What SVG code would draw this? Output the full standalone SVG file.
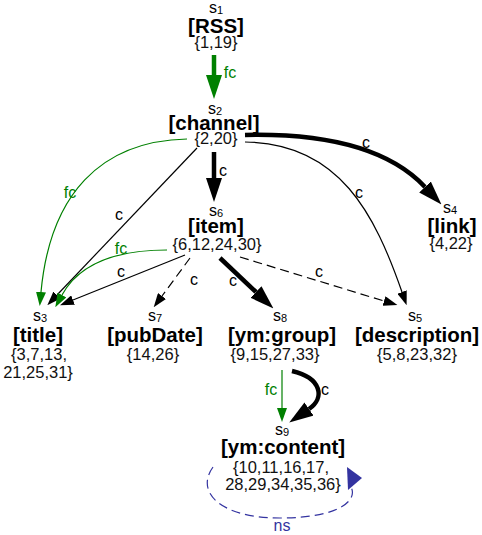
<svg xmlns="http://www.w3.org/2000/svg" width="482" height="535" viewBox="0 0 482 535">
<style>
text{font-family:"Liberation Sans",Arial,sans-serif;fill:#000}
.sl{font-size:16px;text-anchor:middle}
.sub{font-size:11px}
.nm{font-size:20.5px;font-weight:bold;text-anchor:middle}
.st{font-size:16.5px;text-anchor:middle;fill:#111}
.el{font-size:16px;text-anchor:middle}
.g{fill:#008000}
.b{fill:#3333a0}
.e{fill:none;stroke:#000;stroke-width:1.2}
.thick{stroke-width:4.5}
.gr{stroke:#008000}
.dash{stroke-dasharray:9,5}
.ns{fill:none;stroke:#3333a0;stroke-width:1.2;stroke-dasharray:9,5}
</style>
<defs>
<marker id="hb" markerUnits="userSpaceOnUse" markerWidth="24" markerHeight="16" refX="0" refY="8" orient="auto"><path d="M0,0 L24,8 L0,16 z" fill="#000"/></marker>
<marker id="hs" markerUnits="userSpaceOnUse" markerWidth="14" markerHeight="10" refX="0" refY="5" orient="auto"><path d="M0,0 L14,5 L0,10 z" fill="#000"/></marker>
<marker id="gb" markerUnits="userSpaceOnUse" markerWidth="24" markerHeight="16" refX="0" refY="8" orient="auto"><path d="M0,0 L24,8 L0,16 z" fill="#008000"/></marker>
<marker id="gs" markerUnits="userSpaceOnUse" markerWidth="14" markerHeight="10" refX="0" refY="5" orient="auto"><path d="M0,0 L14,5 L0,10 z" fill="#008000"/></marker>
</defs>

<g id="edges">
<!-- s1 -> s2 fc -->
<path class="e thick gr" d="M214,55 L214,75" marker-end="url(#gb)"/>
<text class="el g" x="230" y="78">fc</text>
<!-- s2 -> s6 c -->
<path class="e thick" d="M214,152 L214,178" marker-end="url(#hb)"/>
<text class="el" x="223" y="176">c</text>
<!-- s2 -> s4 c -->
<path class="e thick" d="M245,135 C335,133 392,152 425,187" marker-end="url(#hb)"/>
<text class="el" x="366" y="148">c</text>
<!-- s2 -> s5 c -->
<path class="e" d="M245,142 C340,143 375,215 402,292" marker-end="url(#hs)"/>
<text class="el" x="359" y="198">c</text>
<!-- s2 -> s3 c -->
<path class="e" d="M197,148 L57,295" marker-end="url(#hs)"/>
<text class="el" x="119" y="220">c</text>
<!-- s2 -> s3 fc -->
<path class="e gr" d="M187,139 C100,141 50,195 41,292" marker-end="url(#gs)"/>
<text class="el g" x="70" y="198">fc</text>
<!-- s6 -> s3 fc -->
<path class="e gr" d="M167,250 C120,250 80,262 62,295" marker-end="url(#gs)"/>
<text class="el g" x="121" y="254">fc</text>
<!-- s6 -> s3 c -->
<path class="e" d="M185,255 L73,300" marker-end="url(#hs)"/>
<text class="el" x="121" y="277">c</text>
<!-- s6 -> s7 c -->
<path class="e dash" d="M190,258 L162,296" marker-end="url(#hs)"/>
<text class="el" x="194" y="285">c</text>
<!-- s6 -> s8 c -->
<path class="e thick" d="M220,258 L256,292" marker-end="url(#hb)"/>
<text class="el" x="233" y="286">c</text>
<!-- s6 -> s5 c -->
<path class="e dash" d="M240,257 L384,301" marker-end="url(#hs)"/>
<text class="el" x="319" y="277">c</text>
<!-- s8 -> s9 fc -->
<path class="e gr" d="M282,370 L282,408" marker-end="url(#gs)"/>
<text class="el g" x="271" y="395">fc</text>
<!-- s8 -> s9 c -->
<path class="e thick" d="M292,371 C322,378 325,398 309,409" marker-end="url(#hb)"/>
<text class="el" x="325" y="395">c</text>
<!-- s9 -> s9 ns -->
<path class="ns" d="M213,467 C195,492 220,518 280,518 C340,518 358,500 351,487"/>
<path d="M347,467 L362,478 L348,490 z" fill="#3333a0"/>
<text class="el b" x="282" y="531">ns</text>
</g>

<g id="s1">
<text class="sl" x="216" y="13">s<tspan class="sub" dy="1">1</tspan></text>
<text class="nm" x="216" y="33">[RSS]</text>
<text class="st" x="216" y="48">{1,19}</text>
</g>
<g id="s2">
<text class="sl" x="215" y="114">s<tspan class="sub" dy="1">2</tspan></text>
<text class="nm" x="214" y="130">[channel]</text>
<text class="st" x="216" y="144">{2,20}</text>
</g>
<g id="s6">
<text class="sl" x="216" y="216">s<tspan class="sub" dy="1">6</tspan></text>
<text class="nm" x="216" y="233">[item]</text>
<text class="st" x="217" y="250">{6,12,24,30}</text>
</g>
<g id="s4">
<text class="sl" x="450" y="213">s<tspan class="sub" dy="1">4</tspan></text>
<text class="nm" x="452" y="233">[link]</text>
<text class="st" x="451" y="249">{4,22}</text>
</g>
<g id="s3">
<text class="sl" x="40" y="321">s<tspan class="sub" dy="1">3</tspan></text>
<text class="nm" x="38" y="342">[title]</text>
<text class="st" x="39" y="360">{3,7,13,</text>
<text class="st" x="38" y="378">21,25,31}</text>
</g>
<g id="s7">
<text class="sl" x="155" y="321">s<tspan class="sub" dy="1">7</tspan></text>
<text class="nm" x="155" y="342">[pubDate]</text>
<text class="st" x="153" y="360">{14,26}</text>
</g>
<g id="s8">
<text class="sl" x="280" y="321">s<tspan class="sub" dy="1">8</tspan></text>
<text class="nm" x="282" y="342">[ym:group]</text>
<text class="st" x="275" y="360">{9,15,27,33}</text>
</g>
<g id="s5">
<text class="sl" x="415" y="321">s<tspan class="sub" dy="1">5</tspan></text>
<text class="nm" x="417" y="342">[description]</text>
<text class="st" x="417" y="360">{5,8,23,32}</text>
</g>
<g id="s9">
<text class="sl" x="282" y="435">s<tspan class="sub" dy="1">9</tspan></text>
<text class="nm" x="283" y="454">[ym:content]</text>
<text class="st" x="281" y="473">{10,11,16,17,</text>
<text class="st" x="283" y="490">28,29,34,35,36}</text>
</g>
</svg>
